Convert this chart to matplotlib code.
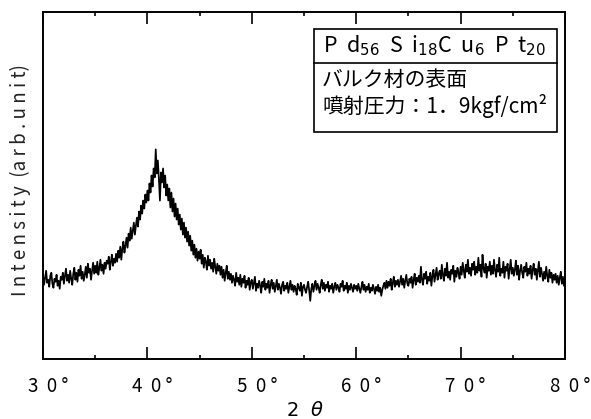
import numpy as np
import matplotlib
matplotlib.use('Agg')
import matplotlib.pyplot as plt
import matplotlib.transforms as mtransforms
from matplotlib.patches import Rectangle
from matplotlib.lines import Line2D

plt.rcParams['font.family'] = ['Noto Sans CJK JP', 'DejaVu Sans']

# ---- data, 2theta from 30 to 80 deg in 0.1 deg steps ----
theta_start = 30.0
theta_step = 0.1
intensity = [
    84, 74, 81, 88, 76, 79, 72, 83, 86, 75,
    71, 80, 77, 84, 73, 78, 70, 82, 79, 86,
    75, 83, 90, 78, 84, 76, 88, 80, 74, 85,
    91, 79, 86, 77, 89, 83, 93, 80, 87, 78,
    84, 92, 81, 95, 86, 90, 79, 88, 96, 85,
    93, 86, 97, 84, 91, 99, 88, 94, 85, 96,
    90, 98, 95, 102, 89, 97, 104, 93, 100, 96,
    105, 97, 108, 101, 112, 99, 110, 117, 106, 113,
    121, 111, 125, 118, 131, 120, 128, 136, 124, 133,
    141, 132, 147, 139, 153, 145, 158, 150, 164, 156,
    168, 158, 175, 166, 183, 172, 190, 181, 209, 185,
    198, 180, 158, 186, 176, 190, 171, 183, 163, 174,
    158, 170, 151, 166, 147, 160, 142, 155, 139, 150,
    134, 144, 129, 140, 124, 136, 121, 131, 117, 127,
    113, 123, 108, 118, 104, 114, 101, 110, 98, 107,
    100, 109, 95, 104, 91, 101, 97, 89, 103, 93,
    99, 90, 96, 87, 100, 92, 85, 95, 88, 93,
    84, 92, 81, 89, 78, 86, 93, 80, 87, 79,
    85, 76, 83, 79, 73, 86, 77, 81, 74, 84,
    72, 80, 76, 83, 71, 78, 74, 81, 69, 77,
    79, 70, 76, 82, 68, 75, 71, 78, 73, 66,
    77, 72, 80, 69, 75, 71, 78, 66, 74, 79,
    70, 76, 67, 73, 79, 69, 75, 71, 65, 74,
    77, 68, 73, 70, 76, 66, 72, 78, 69, 74,
    67, 73, 70, 64, 75, 71, 68, 76, 63, 72,
    74, 69, 66, 72, 77, 68, 58, 70, 75, 67,
    73, 78, 69, 75, 71, 66, 74, 79, 70, 76,
    68, 74, 71, 77, 67, 73, 70, 75, 66, 72,
    76, 69, 74, 71, 67, 75, 72, 78, 68, 73,
    70, 76, 66, 73, 69, 75, 71, 67, 74, 70,
    73, 68, 75, 70, 66, 72, 77, 69, 74, 67,
    72, 69, 75, 66, 71, 68, 74, 70, 65, 72,
    68, 74, 67, 71, 63, 69, 73, 76, 70, 78,
    71, 77, 73, 80, 69, 76, 82, 72, 78, 74,
    79, 72, 77, 83, 74, 80, 71, 78, 84, 75,
    73, 80, 76, 82, 71, 79, 85, 74, 81, 77,
    83, 76, 92, 79, 74, 85, 80, 87, 75, 82,
    78, 86, 73, 83, 89, 77, 84, 91, 79, 85,
    88, 80, 94, 84, 78, 90, 83, 96, 81, 87,
    79, 89, 85, 93, 77, 88, 82, 91, 86, 80,
    92, 84, 96, 88, 81, 94, 87, 99, 85, 91,
    83, 95, 89, 97, 84, 92, 86, 101, 88, 94,
    82, 104, 90, 86, 95, 81, 92, 88, 97, 84,
    93, 85, 99, 88, 82, 94, 87, 101, 83, 90,
    86, 97, 81, 92, 88, 95, 80, 90, 99, 85,
    91, 83, 89, 98, 84, 93, 79, 88, 94, 86,
    81, 92, 87, 96, 83, 90, 85, 93, 80, 89,
    95, 84, 90, 79, 88, 97, 82, 91, 85, 78,
    87, 80, 92, 83, 77, 89, 81, 86, 76, 84,
    79, 85, 76, 83, 74, 81, 87, 75, 82, 73,
    79,
]
major_ticks = [30, 40, 50, 60, 70, 80]
minor_ticks = [35, 45, 55, 65, 75]
tick_labels = ["3  0 °", "4  0 °", "5  0 °", "6  0 °", "7  0 °", "8  0 °"]
x_label = "2  $\\theta$"
y_label = "I n t e n s i t y  (a r b . u n i t)"
box_title = "P  d$_{56}$  S  i$_{18}$C  u$_{6}$  P  t$_{20}$"
box_line1 = "バルク材の表面"
box_line2 = "噴射圧力：1．9kgf/cm²"

two_theta = theta_start + theta_step * np.arange(len(intensity))

W, H = 591, 419
fig = plt.figure(figsize=(W / 100, H / 100), dpi=100)
L, R, T, B = 43, 565, 12, 359
ax = fig.add_axes([L / W, 1 - B / H, (R - L) / W, (B - T) / H])

ax.plot(two_theta, intensity, color='black', lw=1.25)
ax.set_xlim(30, 80)
ax.set_ylim(0, 346)
ax.set_yticks([])
ax.set_xticks(major_ticks)
ax.set_xticks(minor_ticks, minor=True)
ax.set_xticklabels(tick_labels, fontsize=13.5)
ax.tick_params(axis='x', which='both', direction='in', top=True, bottom=True,
               width=1.2, pad=12)
ax.tick_params(axis='x', which='major', length=8.5)
ax.tick_params(axis='x', which='minor', length=3)
offset = mtransforms.ScaledTranslation(5 / 100, 0, fig.dpi_scale_trans)
for lab in ax.get_xticklabels():
    lab.set_transform(lab.get_transform() + offset)
for s in ax.spines.values():
    s.set_linewidth(1.4)

fig.text(305 / W, 1 - 410 / H, x_label, ha='center', va='center', fontsize=14,
         family=['DejaVu Sans'])
fig.text(20 / W, 1 - 180 / H, y_label, ha='center', va='center', rotation=90,
         fontsize=13.5, color='#222222')

# annotation box
bx0, bx1, by0, by1, bdiv = 314, 557, 29, 132, 63
fig.patches.append(Rectangle((bx0 / W, 1 - by1 / H), (bx1 - bx0) / W, (by1 - by0) / H,
                             transform=fig.transFigure, fill=True, facecolor='white',
                             edgecolor='black', lw=1.2, zorder=5))
fig.lines.append(Line2D([bx0 / W, bx1 / W], [1 - bdiv / H, 1 - bdiv / H],
                        transform=fig.transFigure, color='black', lw=1.2, zorder=6))
fig.text(434 / W, 1 - 46 / H, box_title, ha='center', va='center', fontsize=15.5, zorder=7)
fig.text(322 / W, 1 - 80 / H, box_line1, ha='left', va='center', fontsize=15, zorder=7)
fig.text(322 / W, 1 - 106 / H, box_line2, ha='left', va='center', fontsize=15, zorder=7)

fig.savefig('out.png', dpi=100)
